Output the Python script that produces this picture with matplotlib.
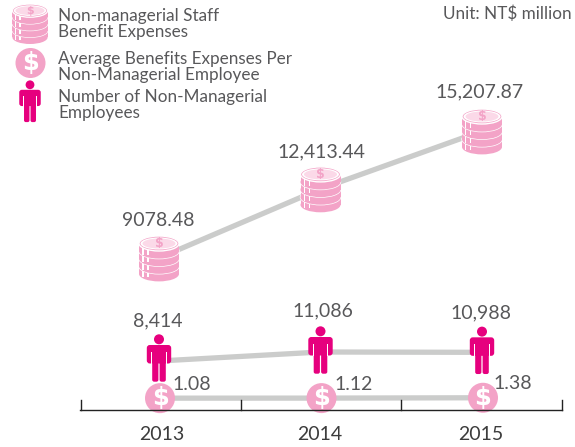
#!/usr/bin/env python3
import matplotlib
matplotlib.use('Agg')
import matplotlib.pyplot as plt
from matplotlib.patches import Circle, Ellipse, Rectangle, FancyBboxPatch

W, H = 575, 447

years = ['2013', '2014', '2015']
expenses = [9078.48, 12413.44, 15207.87]
expense_labels = ['9078.48', '12,413.44', '15,207.87']
employees = [8414, 11086, 10988]
employee_labels = ['8,414', '11,086', '10,988']
avg_benefits = [1.08, 1.12, 1.38]
avg_labels = ['1.08', '1.12', '1.38']
legend_labels = ['Non-managerial Staff\nBenefit Expenses',
                 'Average Benefits Expenses Per\nNon-Managerial Employee',
                 'Number of Non-Managerial\nEmployees']
unit_label = 'Unit: NT$ million'

PINK = '#f3a3c7'
PALE = '#fbd9e8'
MAGENTA = '#e6007e'
LINE = '#cbcccb'
TEXT = '#58585a'

plt.rcParams['font.family'] = ['Lato', 'DejaVu Sans']

fig = plt.figure(figsize=(W / 100, H / 100), dpi=100)


def series_axes(v1, p1, v2, p2):
    # full-figure axes, y scale set so v1 lands on pixel row p1, v2 on p2
    ax = fig.add_axes([0, 0, 1, 1])
    ax.axis('off')
    ax.patch.set_alpha(0)
    ax.set_xlim((-159 / 161.5), (W - 159) / 161.5)
    per_px = (v2 - v1) / (p2 - p1)
    ax.set_ylim(v1 + (H - p1) * per_px, v1 - p1 * per_px)
    return ax


ax_exp = series_axes(9078.48, 258, 15207.87, 131)
ax_emp = series_axes(8414, 361, 11086, 352)
ax_avg = series_axes(1.2, 398, 201.2, 130)

# overlay in pixel coordinates for the icons, axis and legend
over = fig.add_axes([0, 0, 1, 1])
over.axis('off')
over.patch.set_alpha(0)
over.set_xlim(0, W)
over.set_ylim(H, 0)
over.set_zorder(5)


def to_px(ax, x, y):
    return over.transData.inverted().transform(ax.transData.transform((x, y)))


def dollar(cx, cy, size, color='white'):
    over.text(cx, cy, '$', color=color, fontsize=size, fontweight='bold',
              ha='center', va='center', family=['DejaVu Sans'])


def coins(cx, cy, s=1.0):
    w, eh, step = 40 * s, 15 * s, 7.6 * s
    top = cy - 14.5 * s
    for i in range(4, 0, -1):
        y = top + i * step
        over.add_patch(Ellipse((cx, y), w, eh, fc=PINK, ec='none'))
        over.add_patch(Rectangle((cx - w / 2, y - step), w, step, fc=PINK, ec='none'))
        for dx in (3, 8):
            over.add_patch(Rectangle((cx - w / 2 + dx * s, y - step + 4 * s), 1.5 * s, step - 0.5 * s,
                                     fc='white', ec='none'))
        over.add_patch(Ellipse((cx, y - step), w, eh, fc=PINK, ec='white', lw=1.0 * s))
    over.add_patch(Ellipse((cx, top), w - 3 * s, eh - 3 * s, fc='white', ec='none'))
    over.add_patch(Ellipse((cx, top), w - 7 * s, eh - 5 * s, fc=PALE, ec='none'))
    dollar(cx, top, 9 * s, PINK)


def coin(cx, cy, r=15):
    over.add_patch(Circle((cx, cy), r, fc=PINK, ec='none'))
    dollar(cx, cy, r * 1.15)


def person(cx, cy, s=1.0):
    # cy is the middle of the figure, about 48 px tall at s=1
    over.add_patch(Circle((cx, cy - 20.7 * s), 5 * s, fc=MAGENTA, ec='none'))
    # arms and shoulders
    over.add_patch(FancyBboxPatch((cx - 12.2 * s, cy - 15 * s), 24.4 * s, 18.5 * s,
                                  boxstyle='round,pad=0,rounding_size=%.1f' % (3 * s),
                                  fc=MAGENTA, ec='none'))
    # legs
    for dx in (-6.8, 0.6):
        over.add_patch(FancyBboxPatch((cx + dx * s, cy - 4 * s), 6.2 * s, 25.7 * s,
                                      boxstyle='round,pad=0,rounding_size=%.1f' % (2 * s),
                                      fc=MAGENTA, ec='none'))
    # white slits between arms and body
    for dx in (-7.6, 6.8):
        over.add_patch(Rectangle((cx + dx * s, cy - 8 * s), 0.9 * s, 12 * s, fc='white', ec='none'))


xs = range(len(years))
ax_exp.plot(xs, expenses, color=LINE, lw=3.8, solid_capstyle='butt')
ax_emp.plot(xs, employees, color=LINE, lw=3.8, solid_capstyle='butt')
ax_avg.plot(xs, avg_benefits, color=LINE, lw=3.8, solid_capstyle='butt')

for i in xs:
    px, py = to_px(ax_exp, i, expenses[i])
    coins(px, py)
    px, py = to_px(ax_emp, i, employees[i])
    person(px, py - 1 if i == 0 else py)
    px, py = to_px(ax_avg, i, avg_benefits[i])
    coin(px + 1, py)

exp_off = [(-1, 38), (1, 37), (-2, 39)]
emp_off = [(-1, 40), (2, 41), (-1, 39)]
avg_off = [(33, 14), (33, 14), (31, 14)]
for i in xs:
    ax_exp.annotate(expense_labels[i], (i, expenses[i]), xytext=exp_off[i], textcoords='offset pixels',
                    ha='center', va='center', fontsize=14, color=TEXT, zorder=8)
    ax_emp.annotate(employee_labels[i], (i, employees[i]), xytext=emp_off[i], textcoords='offset pixels',
                    ha='center', va='center', fontsize=14, color=TEXT, zorder=8)
    ax_avg.annotate(avg_labels[i], (i, avg_benefits[i]), xytext=avg_off[i], textcoords='offset pixels',
                    ha='center', va='center', fontsize=14, color=TEXT, zorder=8)

# category axis
over.plot([80, 562], [409.5, 409.5], color='#222222', lw=1.0)
for tx in (80.5, 240.5, 401, 562):
    over.plot([tx, tx], [400, 409.5], color='#222222', lw=1.0)
year_dx = [3, -1, -1]
for i, yr in enumerate(years):
    px, _ = to_px(ax_exp, i, expenses[i])
    over.text(px + year_dx[i], 435, yr, ha='center', va='center', fontsize=14, color='#3c3c3c')

# legend
coins(30, 23.4, 0.88)
coin(30.5, 63, 15)
person(30, 103, 0.88)
for y, lab in zip((24, 67, 105), legend_labels):
    over.text(58, y, lab, ha='left', va='center', fontsize=12.3, color=TEXT, linespacing=1.02)
over.text(572, 14, unit_label, ha='right', va='center', fontsize=12.3, color=TEXT)

fig.savefig('out.png', dpi=100, facecolor='white')
